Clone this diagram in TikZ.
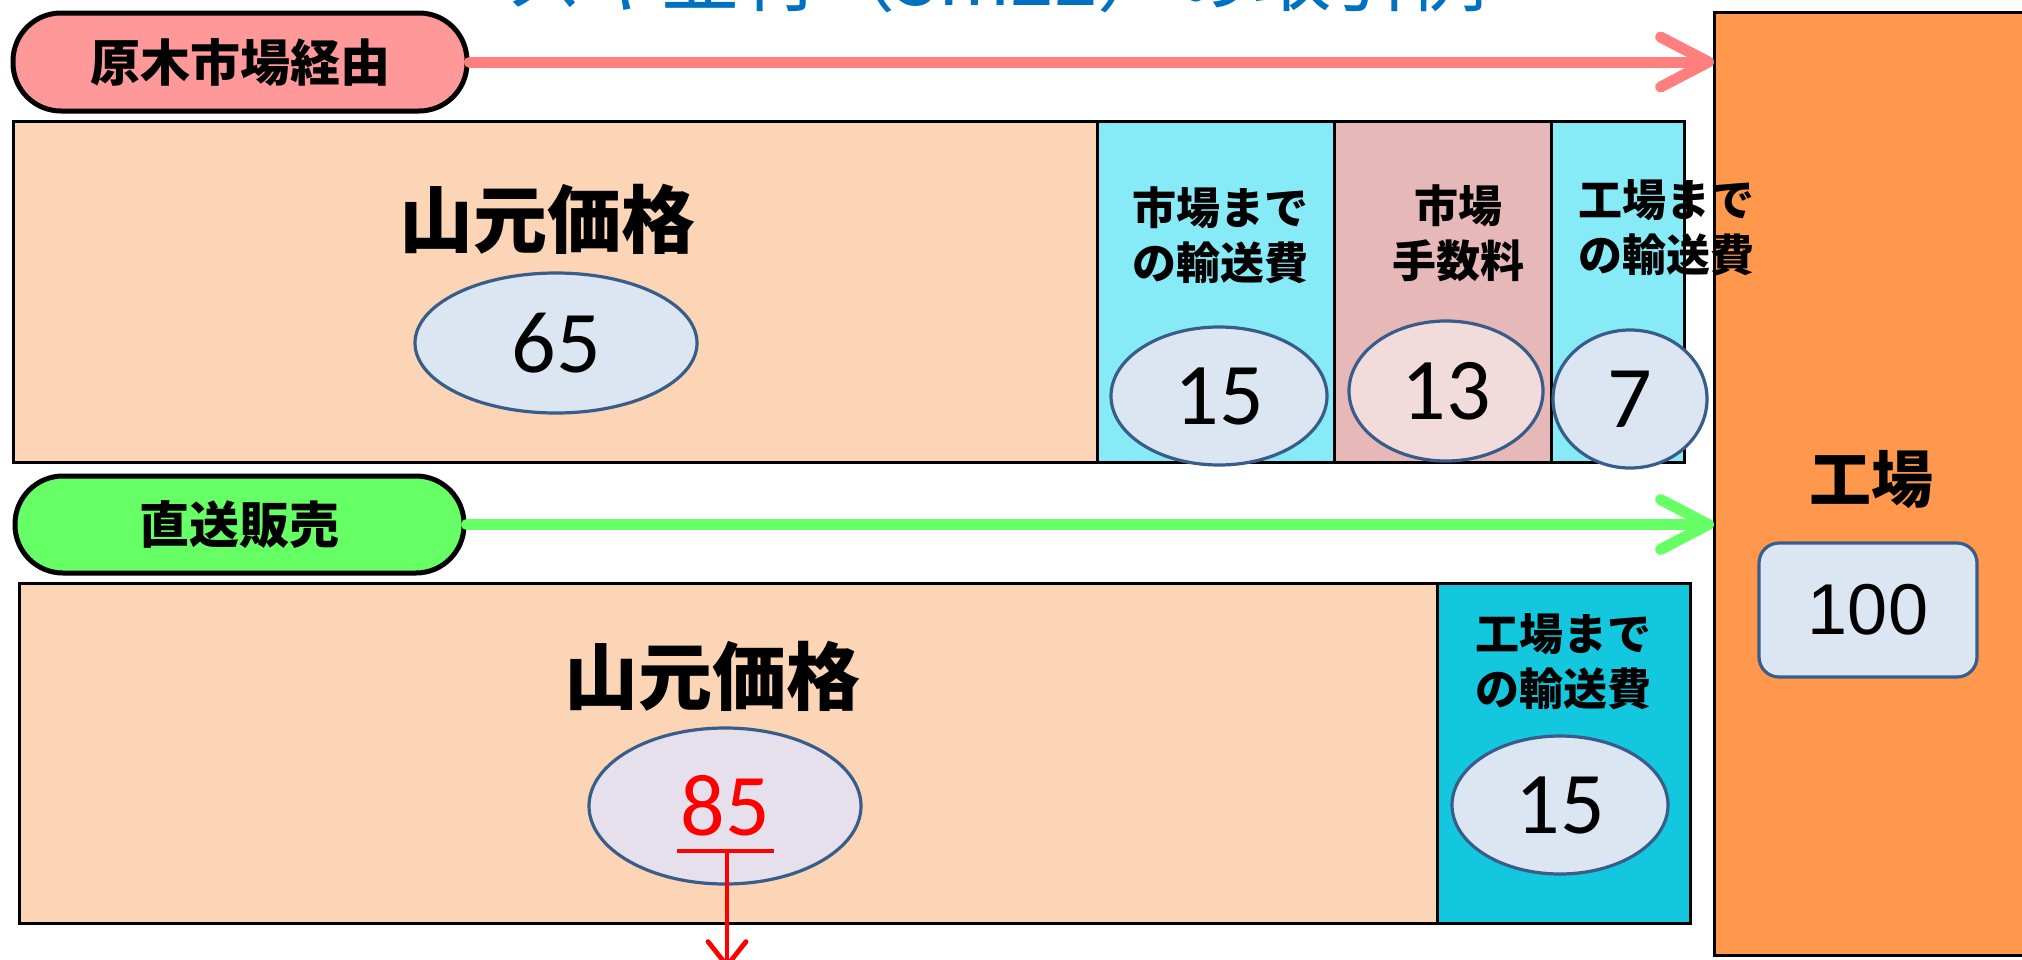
\documentclass[tikz,border=0pt]{standalone}
\usepackage{fontspec}
\usetikzlibrary{shapes.geometric,arrows.meta}
\newfontfamily\jp{Noto Sans CJK JP}
\newfontfamily\calfont{Carlito}
\newfontfamily\arialfont{Liberation Sans}
\definecolor{peach}{HTML}{FBD5B5}
\definecolor{cyanA}{HTML}{87EAF7}
\definecolor{pinkB}{HTML}{E6B9B8}
\definecolor{cyanB}{HTML}{12C7DE}
\definecolor{orangeF}{HTML}{FF974D}
\definecolor{ellFill}{HTML}{DCE6F2}
\definecolor{ellPink}{HTML}{F2DCDB}
\definecolor{ellLav}{HTML}{E5E0EC}
\definecolor{ellLine}{HTML}{385D8A}
\definecolor{pillPink}{HTML}{FF9999}
\definecolor{pillGreen}{HTML}{66FF66}
\definecolor{arrPink}{HTML}{FF7F7F}
\definecolor{arrGreen}{HTML}{66FF66}
\definecolor{titleBlue}{HTML}{0070C0}
\begin{document}
\begin{tikzpicture}[x=0.5pt,y=-0.5pt,
  seg/.style={draw=black,line width=1.5pt,inner sep=0,outer sep=0},
  ell/.style={ellipse,draw=ellLine,line width=1.6pt,fill=ellFill,inner sep=0,
    font=\calfont\fontsize{44}{44}\selectfont},
  lbl/.style={font=\jp\bfseries\fontsize{22}{27.5}\selectfont,align=center,inner sep=0},
  big/.style={font=\jp\bfseries\fontsize{37}{40}\selectfont,inner sep=0},
  pill/.style={draw=black,line width=2.5pt,rounded corners=24pt,inner sep=0,
    font=\jp\bfseries\fontsize{25}{25}\selectfont},
  flow/.style={line width=5.5pt,line cap=round,
    -{Straight Barb[length=24pt,width=25pt,round]}},
  redarr/.style={draw=red,line width=2.4pt,-{Straight Barb[length=12pt,width=19pt,round]}}
]
\useasboundingbox (0,0) rectangle (2022,959);
\clip (0,0) rectangle (2022,959);
% title (cut off at the top)
\node[anchor=base west,font=\jp\fontsize{39}{39}\selectfont,text=titleBlue,inner sep=0] (title) at (505,5) {スギ並材（3m22）の取引例};
% factory
\node[seg,fill=orangeF,minimum width=163pt,minimum height=471.5pt] (fac) at (1877,483.5) {};
% top bar
\node[seg,fill=peach,minimum width=542pt,minimum height=170.5pt] (mtn1) at (555,291.5) {};
\node[seg,fill=cyanA,minimum width=118.5pt,minimum height=170.5pt] (tr1) at (1215.5,291.5) {};
\node[seg,fill=pinkB,minimum width=108.5pt,minimum height=170.5pt] (fee) at (1442.5,291.5) {};
\node[seg,fill=cyanA,minimum width=66.5pt,minimum height=170.5pt] (tr2) at (1617.5,291.5) {};
% bottom bar
\node[seg,fill=peach,minimum width=709pt,minimum height=170pt] (mtn2) at (728,753) {};
\node[seg,fill=cyanB,minimum width=126.5pt,minimum height=170pt] (tr3) at (1563.5,753) {};
% pills
\node[pill,fill=pillPink,minimum width=227pt,minimum height=49pt] (p1) at (240,62) {原木市場経由};
\node[pill,fill=pillGreen,minimum width=224.5pt,minimum height=48.5pt] (p2) at (239.5,524.5) {直送販売};
% flow arrows
\draw[flow,draw=arrPink] (p1.east) -- (p1.east -| fac.west);
\draw[flow,draw=arrGreen] (p2.east) -- (p2.east -| fac.west);
% ellipses
\node[ell,minimum width=141pt,minimum height=70pt] (e65) at (556,343) {65};
\node[ell,minimum width=108pt,minimum height=69pt] (e15a) at (1219,396) {15};
\node[ell,fill=ellPink,minimum width=97pt,minimum height=70pt] (e13) at (1446,391) {13};
\node[ell,minimum width=77pt,minimum height=69pt] (e7) at (1630,399) {7};
\node[ell,fill=ellLav,text=red,minimum width=136pt,minimum height=78pt] (e85) at (725,806) {85};
\node[ell,minimum width=108pt,minimum height=69pt] (e15b) at (1560,805) {15};
% labels
\node[big] (t1) at (547,219) {山元価格};
\node[big] (t2) at (712,676) {山元価格};
\node[lbl] (l1) at (1220,235) {市場まで\\の輸送費};
\node[lbl] (l2) at (1458,233) {市場\\手数料};
\node[lbl] (l3) at (1666,228) {工場まで\\の輸送費};
\node[lbl] (l4) at (1563,662) {工場まで\\の輸送費};
\node[font=\jp\bfseries\fontsize{31}{31}\selectfont,inner sep=0] (facl) at (1871,480) {工場};
\node[draw=ellLine,line width=1.6pt,fill=ellFill,rounded corners=10pt,inner sep=0,
  minimum width=109pt,minimum height=67pt,font=\arialfont\fontsize{36}{36}\selectfont] (b100) at (1868,610) {100};
% underline and red arrow
\coordinate (ulL) at (677,851);
\coordinate (ulR) at (774,851);
\coordinate (rs) at (727,851);
\coordinate (re) at (727,968);
\draw[red,line width=2.2pt] (ulL) -- (ulR);
\draw[redarr] (rs) -- (re);
\end{tikzpicture}
\end{document}
